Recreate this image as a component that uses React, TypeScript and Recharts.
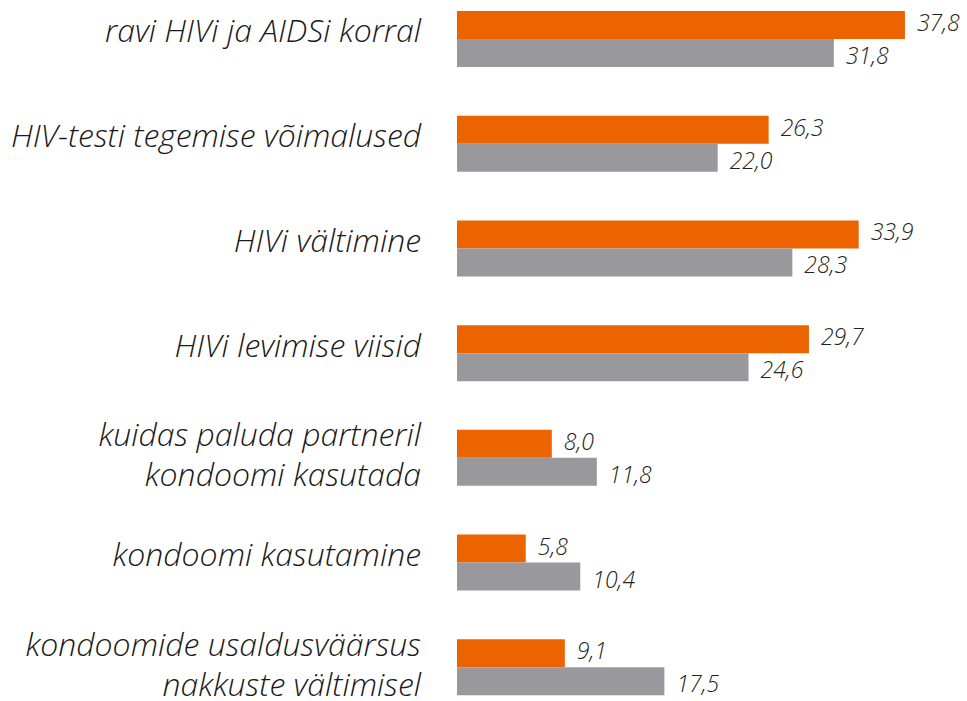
import React from 'react';
import { BarChart, Bar, XAxis, YAxis, LabelList } from 'recharts';

const categories = [
  'ravi HIVi ja AIDSi korral',
  'HIV-testi tegemise võimalused',
  'HIVi vältimine',
  'HIVi levimise viisid',
  'kuidas paluda partneril\nkondoomi kasutada',
  'kondoomi kasutamine',
  'kondoomide usaldusväärsus\nnakkuste vältimisel',
];
const orangeValues = [37.8, 26.3, 33.9, 29.7, 8.0, 5.8, 9.1];
const grayValues = [31.8, 22.0, 28.3, 24.6, 11.8, 10.4, 17.5];

const data = categories.map((name, i) => ({
  name,
  orange: orangeValues[i],
  gray: grayValues[i],
}));

const FONT = '"Open Sans", Lato, sans-serif';

const CategoryTick = (props: any) => {
  const { x, y, payload } = props;
  const lines: string[] = String(payload.value).split('\n');
  const baselines = lines.length === 1 ? [3] : [-12, 28];
  return (
    <g>
      {lines.map((line, i) => (
        <text
          key={i}
          x={x - 28}
          y={y + baselines[i]}
          textAnchor="end"
          fontFamily={FONT}
          fontStyle="italic"
          fontWeight={300}
          fontSize={32}
          fill="#1a1a1a"
        >
          {line}
        </text>
      ))}
    </g>
  );
};

const makeValueLabel = (dy: number) => (props: any) => {
  const { x, y, width, height, value } = props;
  return (
    <text
      x={x + width + 12}
      y={y + height / 2 + dy}
      dominantBaseline="central"
      fontFamily={FONT}
      fontStyle="italic"
      fontWeight={300}
      fontSize={23}
      fill="#222"
    >
      {Number(value).toFixed(1).replace('.', ',')}
    </text>
  );
};

export default function App() {
  return (
    <div
      style={{
        position: 'fixed',
        left: 0,
        top: 0,
        width: 967,
        height: 701,
        overflow: 'hidden',
        background: '#fff',
      }}
    >
      <div style={{ position: 'absolute', left: 0, top: -13 }}>
        <BarChart
          width={967}
          height={733}
          data={data}
          layout="vertical"
          barGap={0}
          margin={{ top: 0, right: 36, bottom: 0, left: 0 }}
        >
          <XAxis type="number" domain={[0, 40]} hide />
          <YAxis
            type="category"
            dataKey="name"
            width={457}
            axisLine={false}
            tickLine={false}
            interval={0}
            tick={<CategoryTick />}
          />
          <Bar dataKey="orange" fill="#EC6400" barSize={28} isAnimationActive={false}>
            <LabelList dataKey="orange" content={makeValueLabel(-3)} />
          </Bar>
          <Bar dataKey="gray" fill="#99989C" barSize={28} isAnimationActive={false}>
            <LabelList dataKey="gray" content={makeValueLabel(2)} />
          </Bar>
        </BarChart>
      </div>
    </div>
  );
}
